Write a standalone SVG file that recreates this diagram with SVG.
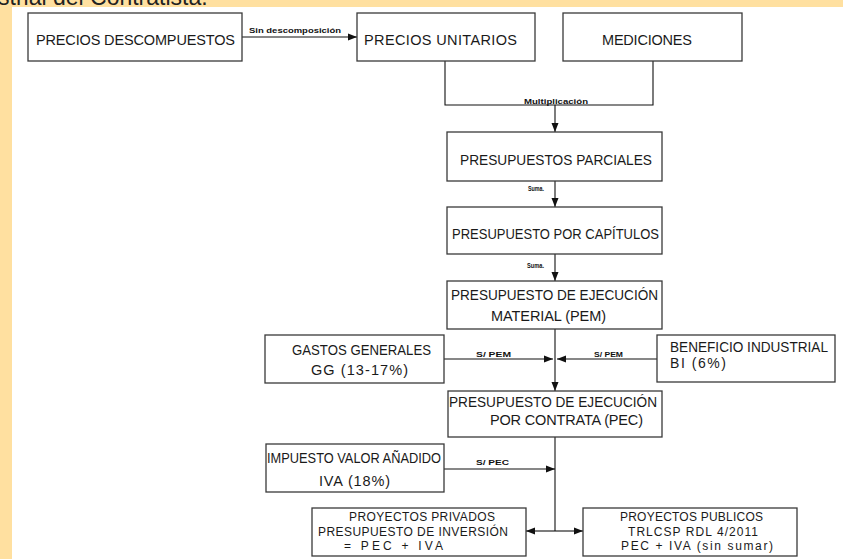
<svg xmlns="http://www.w3.org/2000/svg" width="843" height="559" viewBox="0 0 843 559">
<style>
.bg{fill:#FFE0A0}
.box{fill:#fff;stroke:#3a3a3a;stroke-width:1.3}
.t{font-family:"Liberation Sans",Arial,sans-serif;font-size:14.5px;fill:#1a1a1a;text-anchor:middle}
.s{font-family:"Liberation Sans",Arial,sans-serif;font-size:12px;fill:#1a1a1a;text-anchor:middle}
.l{font-family:"Liberation Sans",Arial,sans-serif;font-size:8px;font-weight:bold;fill:#111;text-anchor:middle}
.c{fill:none;stroke:#111;stroke-width:1.1}
</style>
<defs>
<marker id="ah" markerUnits="userSpaceOnUse" markerWidth="11" markerHeight="9" refX="9" refY="4.5" orient="auto">
<path d="M0,1 L9,4.5 L0,8 Z" fill="#111"/>
</marker>
</defs>
<rect x="0" y="0" width="843" height="559" fill="#fff"/>
<rect class="bg" x="0" y="0" width="843" height="7"/>
<rect class="bg" x="0" y="0" width="12" height="559"/>
<text x="-2" y="5" font-family="Liberation Sans,Arial,sans-serif" font-size="23" fill="#222">strial del Contratista.</text>

<g id="connectors">
<path class="c" d="M242,37 H357" marker-end="url(#ah)"/>
<path class="c" d="M445,61 V105 H653 V61"/>
<path class="c" d="M555,105 V132" marker-end="url(#ah)"/>
<path class="c" d="M555,181 V207" marker-end="url(#ah)"/>
<path class="c" d="M555,254 V281" marker-end="url(#ah)"/>
<path class="c" d="M555,329 V391" marker-end="url(#ah)"/>
<path class="c" d="M444,359 H553" marker-end="url(#ah)"/>
<path class="c" d="M657,359 H557" marker-end="url(#ah)"/>
<path class="c" d="M555,437 V531"/>
<path class="c" d="M444,469 H555" marker-end="url(#ah)"/>
<path class="c" d="M555,531 H526" marker-end="url(#ah)"/>
<path class="c" d="M555,531 H583" marker-end="url(#ah)"/>
<text class="l" x="295" y="33" textLength="92" lengthAdjust="spacingAndGlyphs">Sin descomposición</text>
<text class="l" x="556" y="104" textLength="64" lengthAdjust="spacingAndGlyphs">Multiplicación</text>
<text class="l" x="536" y="191" textLength="16" lengthAdjust="spacingAndGlyphs">Suma.</text>
<text class="l" x="535.5" y="268" textLength="17" lengthAdjust="spacingAndGlyphs">Suma.</text>
<text class="l" x="493.5" y="357" textLength="35" lengthAdjust="spacingAndGlyphs">S/ PEM</text>
<text class="l" x="608.5" y="357" textLength="29" lengthAdjust="spacingAndGlyphs">S/ PEM</text>
<text class="l" x="492.5" y="465" textLength="33" lengthAdjust="spacingAndGlyphs">S/ PEC</text>
</g>

<g id="precios-descompuestos">
<rect class="box" x="28" y="13" width="214" height="48"/>
<text class="t" x="135.5" y="45" textLength="199" lengthAdjust="spacing">PRECIOS DESCOMPUESTOS</text>
</g>
<g id="precios-unitarios">
<rect class="box" x="357" y="13" width="178" height="48"/>
<text class="t" x="440.5" y="45" textLength="153" lengthAdjust="spacing">PRECIOS UNITARIOS</text>
</g>
<g id="mediciones">
<rect class="box" x="563" y="13" width="179" height="48"/>
<text class="t" x="647" y="45" textLength="90" lengthAdjust="spacing">MEDICIONES</text>
</g>
<g id="presupuestos-parciales">
<rect class="box" x="447" y="132" width="215" height="49"/>
<text class="t" x="556" y="165" textLength="192" lengthAdjust="spacingAndGlyphs">PRESUPUESTOS PARCIALES</text>
</g>
<g id="presupuesto-capitulos">
<rect class="box" x="447" y="207" width="215" height="47"/>
<text class="t" x="555.5" y="239" textLength="207" lengthAdjust="spacingAndGlyphs">PRESUPUESTO POR CAPÍTULOS</text>
</g>
<g id="pem">
<rect class="box" x="447" y="281" width="215" height="48"/>
<text class="t" x="554.5" y="300" textLength="207" lengthAdjust="spacingAndGlyphs">PRESUPUESTO DE EJECUCIÓN</text>
<text class="t" x="548.5" y="321" textLength="115" lengthAdjust="spacing">MATERIAL (PEM)</text>
</g>
<g id="gastos-generales">
<rect class="box" x="265" y="335" width="179" height="48"/>
<text class="t" x="361.5" y="355" textLength="139" lengthAdjust="spacingAndGlyphs">GASTOS GENERALES</text>
<text class="t" x="359.5" y="375" textLength="97" lengthAdjust="spacing">GG (13-17%)</text>
</g>
<g id="beneficio-industrial">
<rect class="box" x="657" y="335" width="178" height="47"/>
<text class="t" x="670" y="352" style="text-anchor:start;font-size:14px" textLength="158" lengthAdjust="spacingAndGlyphs">BENEFICIO INDUSTRIAL</text>
<text class="t" x="670" y="368" style="text-anchor:start;font-size:14px" textLength="56" lengthAdjust="spacing">BI (6%)</text>
</g>
<g id="pec">
<rect class="box" x="448" y="391" width="214" height="46"/>
<text class="t" x="553" y="407" textLength="208" lengthAdjust="spacingAndGlyphs">PRESUPUESTO DE EJECUCIÓN</text>
<text class="t" x="566.5" y="425" textLength="153" lengthAdjust="spacing">POR CONTRATA (PEC)</text>
</g>
<g id="iva">
<rect class="box" x="266" y="444" width="178" height="48"/>
<text class="t" x="354" y="463" textLength="174" lengthAdjust="spacingAndGlyphs">IMPUESTO VALOR AÑADIDO</text>
<text class="t" x="354.5" y="486" textLength="71" lengthAdjust="spacing">IVA (18%)</text>
</g>
<g id="proyectos-privados">
<rect class="box" x="312" y="508" width="214" height="48"/>
<text class="s" x="422" y="521" textLength="146" lengthAdjust="spacing">PROYECTOS PRIVADOS</text>
<text class="s" x="413" y="535.5" textLength="190" lengthAdjust="spacing">PRESUPUESTO DE INVERSIÓN</text>
<text class="s" x="393.5" y="550" textLength="99" lengthAdjust="spacing">= PEC + IVA</text>
</g>
<g id="proyectos-publicos">
<rect class="box" x="583" y="508" width="214" height="48"/>
<text class="s" x="691.5" y="521" textLength="143" lengthAdjust="spacing">PROYECTOS PUBLICOS</text>
<text class="s" x="693" y="535.5" textLength="130" lengthAdjust="spacing">TRLCSP RDL 4/2011</text>
<text class="s" x="697" y="550" textLength="152" lengthAdjust="spacing">PEC + IVA (sin sumar)</text>
</g>
</svg>
